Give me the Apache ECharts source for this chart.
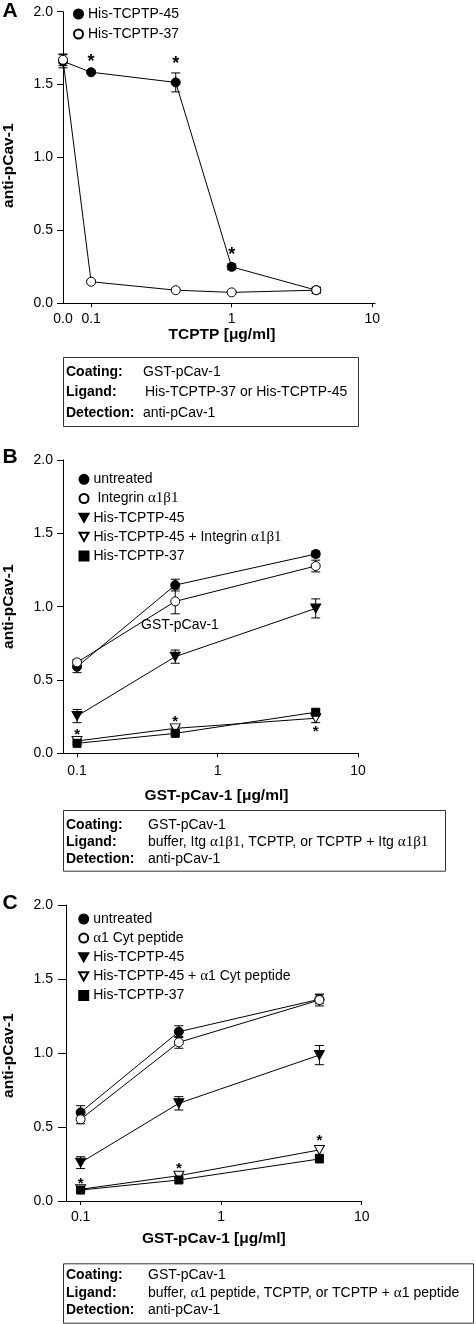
<!DOCTYPE html>
<html><head><meta charset="utf-8">
<script src="https://cdn.jsdelivr.net/npm/echarts@6/dist/echarts.min.js"></script>
<style>html,body{margin:0;padding:0;background:#fff}#c{width:476px;height:1324px}</style>
</head><body><div id="c"></div>
<script>
// ---------- DATA ----------
// Panel A  (x: TCPTP µg/ml)
const concA = [0, 0.1, 0.4, 1, 4];
const a45 = [1.66, 1.585, 1.515, 0.25, 0.09];
const a45Err = [0.045, 0.01, 0.065, 0.02, 0.02];
const a37 = [1.67, 0.148, 0.09, 0.075, 0.09];
const a37Err = [0.04, 0.01, 0.01, 0.01, 0.02];
const starsA = [0.1, 0.4, 1];           // significance on His-TCPTP-45
const xTickValsA = [0, 0.1, 1, 10];
const xTickLabelsA = ['0.0', '0.1', '1', '10'];

// Panel B  (x: GST-pCav-1 µg/ml)
const concB = [0.1, 0.5, 5];
const bUntreated = [0.59, 1.147, 1.359];
const bUntreatedErr = [0.04, 0.04, 0.02];
const bIntegrin = [0.62, 1.036, 1.277];
const bIntegrinErr = [0.02, 0.085, 0.04];
const b45 = [0.254, 0.659, 0.988];
const b45Err = [0.045, 0.045, 0.065];
const b45Itg = [0.084, 0.17, 0.239];
const b45ItgErr = [0.01, 0.01, 0.03];
const b37 = [0.068, 0.136, 0.28];
const b37Err = [0.01, 0.01, 0.02];
const starsBAbove = [0.1, 0.5];          // on His-TCPTP-45 + Integrin
const starsBBelow = [5];

// Panel C
const concC = [0.1, 0.5, 5];
const cUntreated = [0.599, 1.144, 1.363];
const cUntreatedErr = [0.045, 0.04, 0.03];
const cPeptide = [0.552, 1.072, 1.358];
const cPeptideErr = [0.03, 0.04, 0.04];
const c45 = [0.259, 0.66, 0.986];
const c45Err = [0.04, 0.045, 0.065];
const c45Pep = [0.079, 0.171, 0.345];
const c45PepErr = [0.01, 0.015, 0.03];
const c37 = [0.074, 0.142, 0.284];
const c37Err = [0.01, 0.015, 0.02];
const starsCAbove = [0.1, 0.5, 5];       // on His-TCPTP-45 + α1 Cyt peptide

const xTickValsBC = [0.1, 1, 10];
const xTickLabelsBC = ['0.1', '1', '10'];

// ---------- STYLE / LAYOUT ----------
const SANS = "'Liberation Sans', Arial, sans-serif";
const SERIF = "'Liberation Serif', 'DejaVu Serif', serif";
const TRI = 'path://M0,0L10,0L5,9Z';
const ZERO_POS = -1.2;
function xPos(c) { return c === 0 ? ZERO_POS : Math.log10(c); }
const richG = { g: { fontFamily: SERIF, fontSize: 15, lineHeight: 14 } };
function greek(s) { return s.replace(/(α1β1|α)/g, '{g|$1}'); }

const panels = [
  { key: 'A', grid: { left: 63, top: 11.7, width: 312, height: 291.6 }, xMin: -1.2, xMax: 1.02,
    ticks: xTickValsA, labels: xTickLabelsA, labelMargin: 9, yTickLen: 6, yLabelMargin: 10,
    xName: 'TCPTP [μg/ml]', nameGap: 23, namePad: [0, 0, 0, 6],
    legend: { left: 73, top: 7, gap: 6 },
    series: [
      { name: 'His-TCPTP-45', x: concA, y: a45, err: a45Err, sym: 'circle', size: 9, fill: '#000', icon: 'circle' },
      { name: 'His-TCPTP-37', x: concA, y: a37, err: a37Err, sym: 'circle', size: 9, fill: '#fff', icon: 'circle' }
    ],
    stars: [{ s: 0, at: starsA, dir: -1, gap: 13, fs: 18 }]
  },
  { key: 'B', grid: { left: 63, top: 460, width: 295, height: 293.3 }, xMin: -1.1, xMax: 1.0,
    ticks: xTickValsBC, labels: xTickLabelsBC, labelMargin: 11, yTickLen: 6, yLabelMargin: 10,
    xName: 'GST-pCav-1 [μg/ml]', nameGap: 34, namePad: [0, 0, 0, 12],
    legend: { left: 78.5, top: 472.3, gap: 4.7 },
    series: [
      { name: 'untreated', x: concB, y: bUntreated, err: bUntreatedErr, sym: 'circle', size: 9, fill: '#000', icon: 'circle' },
      { name: ' Integrin α1β1', x: concB, y: bIntegrin, err: bIntegrinErr, sym: 'circle', size: 9, fill: '#fff', icon: 'circle' },
      { name: 'His-TCPTP-45', x: concB, y: b45, err: b45Err, sym: TRI, size: [10, 9], fill: '#000', icon: TRI },
      { name: 'His-TCPTP-45 + Integrin α1β1', x: concB, y: b45Itg, err: b45ItgErr, sym: TRI, size: [10, 9], fill: '#fff', icon: TRI },
      { name: 'His-TCPTP-37', x: concB, y: b37, err: b37Err, sym: 'rect', size: 8, fill: '#000', icon: 'rect' }
    ],
    stars: [{ s: 3, at: starsBAbove, dir: -1, gap: 8, fs: 15 }, { s: 3, at: starsBBelow, dir: 1, gap: 6, fs: 15 }]
  },
  { key: 'C', grid: { left: 66, top: 905, width: 295.7, height: 296 }, xMin: -1.104, xMax: 1.0,
    ticks: xTickValsBC, labels: xTickLabelsBC, labelMargin: 9, yTickLen: 8, yLabelMargin: 13,
    xName: 'GST-pCav-1 [μg/ml]', nameGap: 30, namePad: [0, 0, 0, 0],
    legend: { left: 78.2, top: 912, gap: 4.6 },
    series: [
      { name: 'untreated', x: concC, y: cUntreated, err: cUntreatedErr, sym: 'circle', size: 9, fill: '#000', icon: 'circle' },
      { name: 'α1 Cyt peptide', x: concC, y: cPeptide, err: cPeptideErr, sym: 'circle', size: 9, fill: '#fff', icon: 'circle' },
      { name: 'His-TCPTP-45', x: concC, y: c45, err: c45Err, sym: TRI, size: [10, 9], fill: '#000', icon: TRI },
      { name: 'His-TCPTP-45 + α1 Cyt peptide', x: concC, y: c45Pep, err: c45PepErr, sym: TRI, size: [10, 9], fill: '#fff', icon: TRI },
      { name: 'His-TCPTP-37', x: concC, y: c37, err: c37Err, sym: 'rect', size: 8, fill: '#000', icon: 'rect' }
    ],
    stars: [{ s: 3, at: starsCAbove, dir: -1, gap: 7.5, fs: 15 }]
  }
];

function errRender(capW) {
  return function (params, api) {
    const x = api.value(0), y = api.value(1), e = api.value(2);
    if (!(e > 0)) return null;
    const t = api.coord([x, y + e]), b = api.coord([x, y - e]);
    const h = capW / 2, st = { stroke: '#000', lineWidth: 1 };
    return { type: 'group', children: [
      { type: 'line', shape: { x1: t[0], y1: t[1], x2: b[0], y2: b[1] }, style: st },
      { type: 'line', shape: { x1: t[0] - h, y1: t[1], x2: t[0] + h, y2: t[1] }, style: st },
      { type: 'line', shape: { x1: b[0] - h, y1: b[1], x2: b[0] + h, y2: b[1] }, style: st }
    ]};
  };
}
function starRender(dir, gap, fs) {
  return function (params, api) {
    const x = api.value(0), y = api.value(1), e = api.value(2);
    const p = api.coord([x, dir < 0 ? y + e : y - e]);
    return { type: 'text', x: p[0], y: p[1] + dir * gap + 0.22 * fs,
      style: { text: '*', fontSize: fs, fontWeight: 'bold', fontFamily: SANS, fill: '#000', align: 'center', verticalAlign: 'middle' } };
  };
}

const grids = [], xAxes = [], yAxes = [], series = [], legends = [], graphics = [];
panels.forEach((P, pi) => {
  grids.push(Object.assign({ containLabel: false }, P.grid));
  const tickPos = P.ticks.map(xPos);
  xAxes.push({
    type: 'value', gridIndex: pi, min: P.xMin, max: P.xMax,
    axisLine: { show: true, onZero: false, lineStyle: { color: '#000', width: 1 } },
    axisTick: { show: true, customValues: P.ticks.filter(v => v > 0).map(xPos), length: 4, lineStyle: { color: '#000' } },
    axisLabel: { customValues: tickPos, margin: P.labelMargin, color: '#000', fontSize: 14, fontFamily: SANS,
      formatter: v => { const i = tickPos.findIndex(t => Math.abs(t - v) < 1e-6); return i >= 0 ? P.labels[i] : ''; } },
    splitLine: { show: false },
    name: P.xName, nameLocation: 'middle', nameGap: P.nameGap,
    nameTextStyle: { fontSize: 15.5, fontWeight: 'bold', color: '#000', fontFamily: SANS, padding: P.namePad }
  });
  yAxes.push({
    type: 'value', gridIndex: pi, min: 0, max: 2, interval: 0.5,
    axisLine: { show: true, onZero: false, lineStyle: { color: '#000', width: 1 } },
    axisTick: { show: true, length: P.yTickLen, lineStyle: { color: '#000' } },
    axisLabel: { margin: P.yLabelMargin, color: '#000', fontSize: 14, fontFamily: SANS, formatter: v => v.toFixed(1) },
    splitLine: { show: false }
  });
  const legendData = [];
  P.series.forEach((S, si) => {
    const nm = P.key + '|' + S.name;
    legendData.push({ name: nm, icon: S.icon });
    series.push({
      type: 'custom', name: nm + '#err', xAxisIndex: pi, yAxisIndex: pi, z: 1, silent: true,
      renderItem: errRender(9), data: S.x.map((c, i) => [xPos(c), S.y[i], S.err[i]])
    });
    series.push({
      type: 'line', name: nm, xAxisIndex: pi, yAxisIndex: pi, z: 2 + si,
      data: S.x.map((c, i) => [xPos(c), S.y[i]]),
      symbol: S.sym, symbolSize: S.size, showAllSymbol: true,
      itemStyle: { color: S.fill, borderColor: '#000', borderWidth: 1 },
      lineStyle: { color: '#000', width: 1 },
      emphasis: { disabled: true }, animation: false
    });
  });
  P.stars.forEach(st => {
    const S = P.series[st.s];
    const idx = st.at.map(c => S.x.indexOf(c));
    series.push({
      type: 'custom', name: P.key + '#stars', xAxisIndex: pi, yAxisIndex: pi, z: 20, silent: true,
      renderItem: starRender(st.dir, st.gap, st.fs),
      data: idx.map(i => [xPos(S.x[i]), S.y[i], S.err[i]])
    });
  });
  legends.push({
    data: legendData, orient: 'vertical', left: P.legend.left, top: P.legend.top, padding: 0,
    itemWidth: 9, itemHeight: 9, itemGap: P.legend.gap, selectedMode: false,
    textStyle: { fontSize: 14, lineHeight: 14, color: '#000', fontFamily: SANS, rich: richG },
    formatter: n => greek(n.split('|')[1])
  });
});

// panel letters, y titles
const letterY = [11.7, 457.5, 903.3];
const yTitleY = [165.7, 606.7, 1055.7];
['A', 'B', 'C'].forEach((L, i) => {
  graphics.push({ type: 'text', x: 10, y: letterY[i], style: { text: L, fontSize: 21, fontWeight: 'bold', fontFamily: SANS, fill: '#000', align: 'center', verticalAlign: 'middle' } });
  graphics.push({ type: 'text', x: 8.5, y: yTitleY[i], rotation: Math.PI / 2, style: { text: 'anti-pCav-1', fontSize: 15.5, fontWeight: 'bold', fontFamily: SANS, fill: '#000', align: 'center', verticalAlign: 'middle' } });
});
graphics.push({ type: 'text', x: 180, y: 625, style: { text: 'GST-pCav-1', fontSize: 14, fontFamily: SANS, fill: '#000', align: 'center', verticalAlign: 'middle' } });

// condition boxes
const boxRows = ['Coating:', 'Ligand:', 'Detection:'];
const boxAValues = ['GST-pCav-1', 'His-TCPTP-37 or His-TCPTP-45', 'anti-pCav-1'];
const boxBValues = ['GST-pCav-1', 'buffer, Itg α1β1, TCPTP, or TCPTP + Itg α1β1', 'anti-pCav-1'];
const boxCValues = ['GST-pCav-1', 'buffer, α1 peptide, TCPTP, or TCPTP + α1 peptide', 'anti-pCav-1'];
const boxes = [
  { x: 63, y: 357, w: 295, h: 69, rows: [371, 391, 412], vx: [143, 145, 143], vals: boxAValues },
  { x: 63, y: 810, w: 382, h: 60.7, rows: [824.3, 841, 858.3], vx: [148, 148, 148], vals: boxBValues },
  { x: 63, y: 1263.3, w: 410, h: 59.4, rows: [1274, 1291.7, 1309.3], vx: [148, 148, 148], vals: boxCValues }
];
boxes.forEach(B => {
  graphics.push({ type: 'rect', shape: { x: B.x + 0.5, y: B.y + 0.5, width: B.w, height: B.h }, style: { fill: 'none', stroke: '#333', lineWidth: 1 } });
  boxRows.forEach((r, i) => {
    graphics.push({ type: 'text', x: B.x + 3, y: B.rows[i] + 1, style: { text: r, fontSize: 14, fontWeight: 'bold', fontFamily: SANS, fill: '#000', verticalAlign: 'middle' } });
    graphics.push({ type: 'text', x: B.vx[i], y: B.rows[i] + 1, style: { text: greek(B.vals[i]), rich: richG, fontSize: 14, fontFamily: SANS, fill: '#000', verticalAlign: 'middle' } });
  });
});

const chart = echarts.init(document.getElementById('c'), null, { renderer: 'canvas' });
chart.setOption({
  animation: false,
  backgroundColor: '#fff',
  textStyle: { fontFamily: SANS },
  grid: grids, xAxis: xAxes, yAxis: yAxes, series: series, legend: legends, graphic: graphics
});
</script></body></html>
